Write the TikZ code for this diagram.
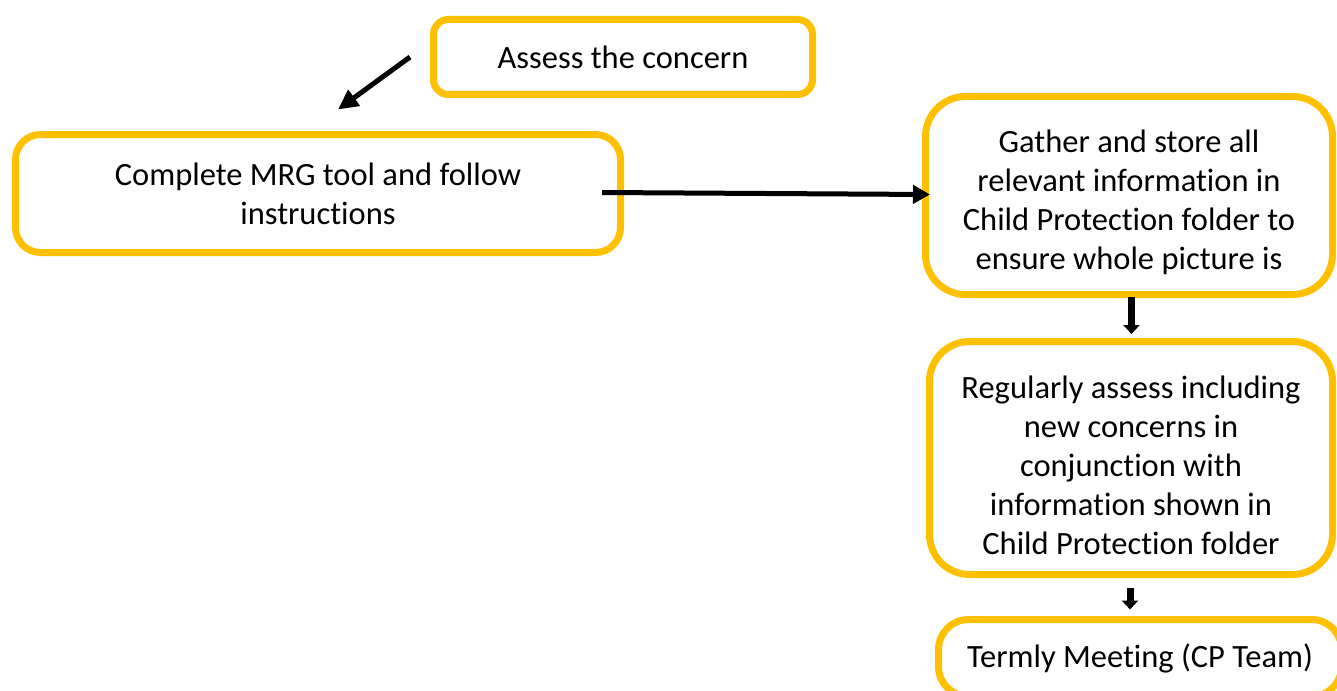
\documentclass[tikz,border=0pt]{standalone}
\usepackage{fontspec}
\setmainfont{Carlito}[Ligatures=NoCommon]
\usetikzlibrary{arrows.meta,calc}
\definecolor{boxgold}{HTML}{FFC000}
\begin{document}
\begin{tikzpicture}[x=1pt,y=-1pt,
  box/.style={draw=boxgold, line width=7pt, rounded corners=#1, fill=white,
    align=center, inner sep=0pt, font=\fontsize{32.5}{39}\selectfont},
  box/.default=15pt,
  boxtext/.style={align=center, inner sep=0pt, font=\fontsize{32.5}{39}\selectfont},
  flow/.style={line width=5pt, -{Triangle[length=20pt,width=19pt]}},
  drop/.style={line width=7pt, -{Triangle[length=9pt,width=16pt]}}]
\useasboundingbox (0,0) rectangle (1337,690);
\clip (0,0) rectangle (1337,690);

% process boxes
\node[box, minimum width=379pt, minimum height=75pt] (assess) at (623,57)
  {Assess the concern};
\node[box=25pt, minimum width=605pt, minimum height=118pt] (mrg) at (318,193.5)
  {Complete MRG tool and follow\\instructions};
\node[box=40pt, minimum width=407pt, minimum height=198pt] (gather) at (1129,195.5) {};
\node[boxtext] (gathertext) at ($(gather.center)+(0,6.5)$)
  {Gather and store all\\relevant information in\\Child Protection folder to\\ensure whole picture is};
\node[box=40pt, minimum width=403pt, minimum height=233pt] (assessreg) at (1131,458) {};
\node[boxtext] (assessregtext) at ($(assessreg.center)+(0,7.5)$)
  {Regularly assess including\\new concerns in\\conjunction with\\information shown in\\Child Protection folder};
\node[box=30pt, minimum width=403pt, minimum height=77pt] (termly) at (1140,658)
  {Termly Meeting (CP Team)};

% connectors
\draw[flow] ($(assess.west)+(-20,0)$) -- ($(mrg.north)+(20,-21.5)$);
\draw[flow, -{Triangle[length=17pt,width=18pt]}]
  ($(mrg.east)+(-22,-1)$) -- ($(gather.west)+(8,-1)$);
\draw[drop] ($(gather.south)+(2.5,-1)$) -- ($(assessreg.north)+(0.5,-4)$);
\draw[drop] ($(assessreg.south)+(-1,10)$) -- ($(termly.north)+(-10,-6.5)$);
\end{tikzpicture}
\end{document}
